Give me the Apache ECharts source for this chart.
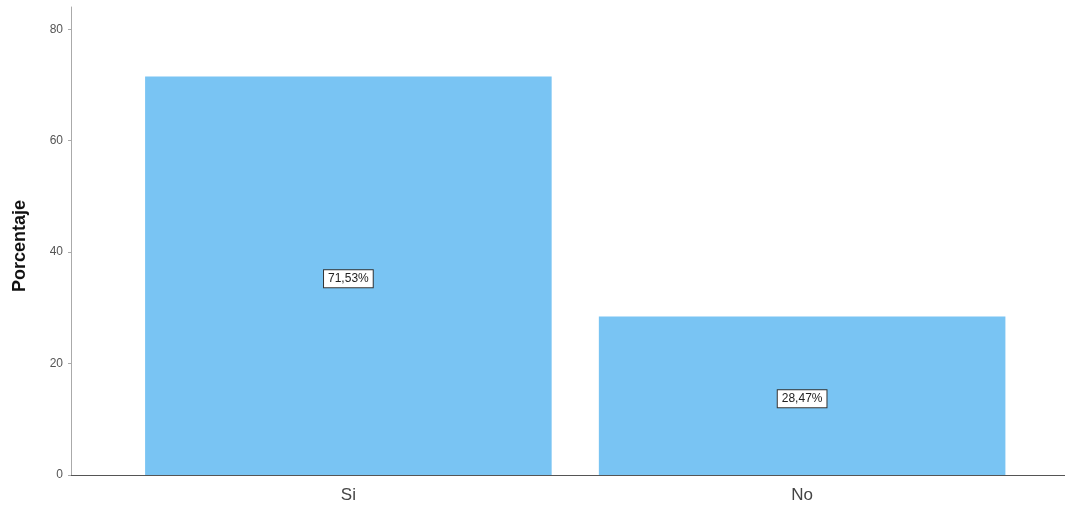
<!DOCTYPE html>
<html>
<head>
<meta charset="utf-8">
<script src="https://cdn.jsdelivr.net/npm/echarts@6/dist/echarts.min.js"></script>
<style>
html,body{margin:0;padding:0;background:#fff;}
#chart{width:1065px;height:506px;}
</style>
</head>
<body>
<div id="chart"></div>
<script>
const categories = ['Si', 'No'];
const percentages = [71.53, 28.47];
const yTicks = [0, 20, 40, 60, 80];
const yAxisTitle = 'Porcentaje';

const yMax = 84;
const chart = echarts.init(document.getElementById('chart'), null, {renderer: 'canvas'});
chart.setOption({
  animation: false,
  backgroundColor: '#ffffff',
  grid: [
    {left: 71, right: 0, top: 7, bottom: 31},
    {left: 121.5, right: 36, top: 7, bottom: 31}
  ],
  xAxis: [
    {
      gridIndex: 0, type: 'value', min: 0, max: 1,
      axisLine: {show: true, lineStyle: {color: '#555', width: 1}},
      axisTick: {show: false}, axisLabel: {show: false}, splitLine: {show: false}
    },
    {
      gridIndex: 1, type: 'category', data: categories,
      axisLine: {show: false}, axisTick: {show: false},
      axisLabel: {color: '#444', fontSize: 17, fontFamily: 'Liberation Sans, Arial, sans-serif', margin: 12}
    }
  ],
  yAxis: [
    {
      gridIndex: 0, type: 'value', min: 0, max: yMax, interval: 20,
      name: yAxisTitle, nameLocation: 'middle', nameGap: 42, nameRotate: 90,
      nameTextStyle: {fontSize: 18, fontWeight: 'bold', color: '#111', fontFamily: 'Liberation Sans, Arial, sans-serif', padding: [0, 10, 0, 0]},
      axisLine: {show: true, lineStyle: {color: '#aaa', width: 1}},
      axisTick: {show: true, length: 3, lineStyle: {color: '#aaa'}},
      axisLabel: {
        color: '#555', fontSize: 12, fontFamily: 'Liberation Sans, Arial, sans-serif', margin: 8,
        showMaxLabel: false,
        formatter: v => (yTicks.indexOf(v) >= 0 ? String(v) : '')
      },
      splitLine: {show: false}
    },
    {
      gridIndex: 1, type: 'value', min: 0, max: yMax, interval: 20, show: false
    }
  ],
  series: [{
    type: 'bar',
    xAxisIndex: 1, yAxisIndex: 1,
    data: percentages,
    barCategoryGap: '10.4%',
    itemStyle: {color: '#79c4f3'},
    label: {
      show: true, position: 'inside',
      formatter: p => p.value.toFixed(2).replace('.', ',') + '%',
      color: '#222', fontSize: 12, fontFamily: 'Liberation Sans, Arial, sans-serif',
      backgroundColor: '#ffffff', borderColor: '#333', borderWidth: 1,
      padding: [3, 4, 2, 4], offset: [0, 3]
    }
  }]
});
</script>
</body>
</html>
